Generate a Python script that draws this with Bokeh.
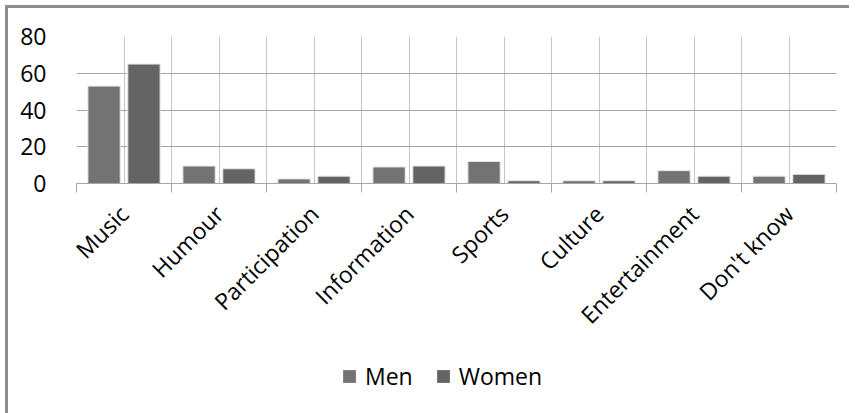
import math
import pandas as pd
from bokeh.plotting import figure
from bokeh.layouts import column
from bokeh.models import (ColumnDataSource, FixedTicker, Grid, Legend, LegendItem,
                          Range1d)
from bokeh.embed import file_html
from bokeh.resources import INLINE

categories = ["Music", "Humour", "Participation", "Information", "Sports",
              "Culture", "Entertainment", "Don't know"]
men = [53, 9.5, 2.5, 9, 12, 1.5, 7, 4]
women = [65, 8, 4, 9.5, 1.5, 1.5, 4, 5]
y_ticks = [0, 20, 40, 60, 80]
series_names = ["Men", "Women"]

FONT = "Open Sans"
MEN_COLOR = "#737373"
WOMEN_COLOR = "#646464"

df = pd.DataFrame({"cat": categories, "men": men, "women": women})
df["idx"] = range(len(df))
df["x_men"] = df["idx"] - 0.21
df["x_women"] = df["idx"] + 0.21
src = ColumnDataSource(df)

n = len(categories)
p = figure(frame_width=760, frame_height=147, output_backend="svg", toolbar_location=None,
           x_range=Range1d(-0.5, n - 0.5), y_range=Range1d(0, 80),
           min_border_left=68, min_border_right=13, min_border_top=28,
           min_border_bottom=155)
p.outline_line_color = None
p.background_fill_color = "white"
p.border_fill_color = "white"

# grids
p.xgrid.visible = False
p.ygrid.visible = False
vgrid = Grid(dimension=0, ticker=FixedTicker(ticks=[i * 0.5 - 0.5 for i in range(2 * n + 1)]),
             grid_line_color="#c4c4c4", grid_line_width=1)
hgrid = Grid(dimension=1, ticker=FixedTicker(ticks=y_ticks),
             grid_line_color="#a6a6a6", grid_line_width=1)
p.add_layout(vgrid)
p.add_layout(hgrid)

p.vbar(x="x_men", top="men", width=0.34, source=src, fill_color=MEN_COLOR,
       line_color="#e8e8e8", line_width=1)
p.vbar(x="x_women", top="women", width=0.34, source=src, fill_color=WOMEN_COLOR,
       line_color="#e8e8e8", line_width=1)

# x axis
xa = p.xaxis[0]
xa.ticker = FixedTicker(ticks=list(range(n)), minor_ticks=[i - 0.5 for i in range(n + 1)])
xa.major_label_overrides = {i: c for i, c in enumerate(categories)}
xa.major_label_orientation = math.pi / 4
xa.major_tick_line_color = None
xa.major_tick_out = 0
xa.major_tick_in = 0
xa.minor_tick_in = 0
xa.minor_tick_out = 9
xa.minor_tick_line_color = "#a6a6a6"
xa.axis_line_color = "#a6a6a6"
xa.major_label_standoff = 17
xa.major_label_text_font = FONT
xa.major_label_text_font_size = "23px"
xa.major_label_text_color = "#000000"

# y axis
ya = p.yaxis[0]
ya.ticker = FixedTicker(ticks=y_ticks)
ya.axis_line_color = None
ya.major_tick_line_color = None
ya.minor_tick_line_color = None
ya.major_label_standoff = 24
ya.major_label_text_font = FONT
ya.major_label_text_font_size = "23px"
ya.major_label_text_color = "#000000"

# legend strip (hidden proxy glyphs outside the visible range)
p2 = figure(width=841, height=70, output_backend="svg", toolbar_location=None,
            x_range=Range1d(0, 1), y_range=Range1d(0, 1),
            x_axis_location=None, y_axis_location=None, min_border=0)
p2.outline_line_color = None
p2.xgrid.visible = False
p2.ygrid.visible = False
proxy = ColumnDataSource(dict(x=[-5], top=[-5]))
lm = p2.vbar(x="x", top="top", width=0.1, source=proxy, fill_color=MEN_COLOR, line_color=None)
lw = p2.vbar(x="x", top="top", width=0.1, source=proxy, fill_color=WOMEN_COLOR, line_color=None)
legend = Legend(items=[LegendItem(label=series_names[0], renderers=[lm]),
                       LegendItem(label=series_names[1], renderers=[lw])],
                orientation="horizontal", location=(265, 22),
                glyph_width=16, glyph_height=16, label_standoff=8, spacing=22,
                padding=0, margin=0, border_line_color=None,
                background_fill_alpha=0,
                label_text_font=FONT, label_text_font_size="23px",
                label_text_color="#000000")
p2.add_layout(legend, "center")

layout = column(p, p2, spacing=0,
                styles={"margin-left": "5px", "margin-top": "5px",
                        "border-left": "3px solid #8c8c8c", "border-top": "3px solid #8c8c8c"})

open("out.html", "w").write(file_html(layout, INLINE))
